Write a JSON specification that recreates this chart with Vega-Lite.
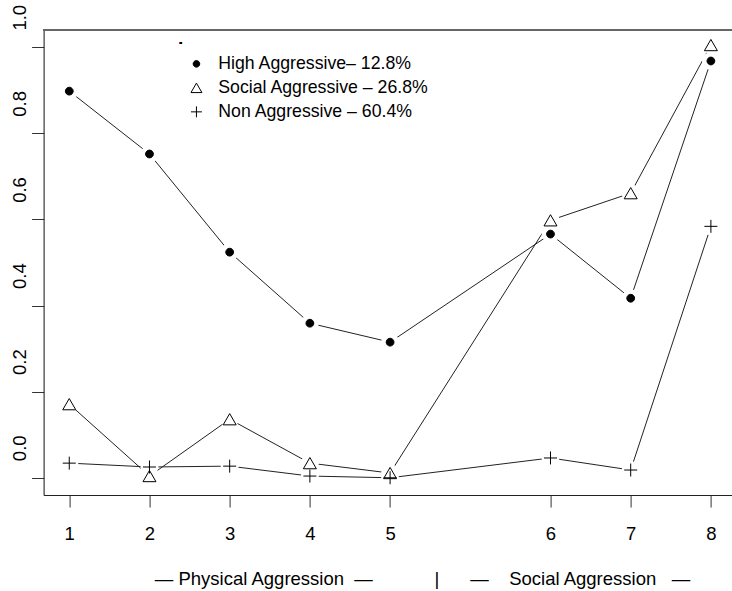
{
  "$schema": "https://vega.github.io/schema/vega-lite/v6.json",
  "width": 688.4,
  "height": 465,
  "autosize": {"type": "none"},
  "padding": {"left": 43.6, "top": 30, "right": 0, "bottom": 96},
  "background": "white",
  "config": {
    "view": {"stroke": null},
    "font": "Liberation Sans",
    "axis": {"grid": false}
  },
  "data": {
    "values": [
      {"group": "High Aggressive– 12.8%", "item": 1, "pos": 1, "value": 0.898},
      {"group": "High Aggressive– 12.8%", "item": 2, "pos": 2, "value": 0.752},
      {"group": "High Aggressive– 12.8%", "item": 3, "pos": 3, "value": 0.524},
      {"group": "High Aggressive– 12.8%", "item": 4, "pos": 4, "value": 0.359},
      {"group": "High Aggressive– 12.8%", "item": 5, "pos": 5, "value": 0.315},
      {"group": "High Aggressive– 12.8%", "item": 6, "pos": 7, "value": 0.566},
      {"group": "High Aggressive– 12.8%", "item": 7, "pos": 8, "value": 0.417},
      {"group": "High Aggressive– 12.8%", "item": 8, "pos": 9, "value": 0.968},
      {"group": "Social Aggressive – 26.8%", "item": 1, "pos": 1, "value": 0.171},
      {"group": "Social Aggressive – 26.8%", "item": 2, "pos": 2, "value": 0.004},
      {"group": "Social Aggressive – 26.8%", "item": 3, "pos": 3, "value": 0.136},
      {"group": "Social Aggressive – 26.8%", "item": 4, "pos": 4, "value": 0.034},
      {"group": "Social Aggressive – 26.8%", "item": 5, "pos": 5, "value": 0.011},
      {"group": "Social Aggressive – 26.8%", "item": 6, "pos": 7, "value": 0.598},
      {"group": "Social Aggressive – 26.8%", "item": 7, "pos": 8, "value": 0.661},
      {"group": "Social Aggressive – 26.8%", "item": 8, "pos": 9, "value": 1.005},
      {"group": "Non Aggressive – 60.4%", "item": 1, "pos": 1, "value": 0.034},
      {"group": "Non Aggressive – 60.4%", "item": 2, "pos": 2, "value": 0.025},
      {"group": "Non Aggressive – 60.4%", "item": 3, "pos": 3, "value": 0.027},
      {"group": "Non Aggressive – 60.4%", "item": 4, "pos": 4, "value": 0.004},
      {"group": "Non Aggressive – 60.4%", "item": 5, "pos": 5, "value": 0.0},
      {"group": "Non Aggressive – 60.4%", "item": 6, "pos": 7, "value": 0.046},
      {"group": "Non Aggressive – 60.4%", "item": 7, "pos": 8, "value": 0.018},
      {"group": "Non Aggressive – 60.4%", "item": 8, "pos": 9, "value": 0.584}
    ]
  },
  "encoding": {
    "x": {
      "field": "pos", "type": "quantitative",
      "scale": {"domain": [0.68, 9.263], "nice": false, "zero": false},
      "axis": {
        "values": [1, 2, 3, 4, 5, 7, 8, 9],
        "labelExpr": "'' + (datum.value > 5 ? datum.value - 1 : datum.value)",
        "domain": true,
        "domainColor": "#222",
        "ticks": true,
        "tickColor": "#333",
        "tickSize": 12,
        "labels": true,
        "labelFontSize": 18.5,
        "labelColor": "black",
        "labelBaseline": "middle",
        "labelPadding": 26,
        "labelFlush": false,
        "labelOverlap": false,
        "title": "—\u00a0Physical Aggression\u00a0\u00a0—\u00a0\u00a0\u00a0\u00a0\u00a0\u00a0\u00a0\u00a0\u00a0\u00a0\u00a0\u00a0|\u00a0\u00a0\u00a0\u00a0\u00a0\u00a0—\u00a0\u00a0\u00a0\u00a0Social Aggression\u00a0\u00a0\u00a0—",
        "titleFontSize": 18.5,
        "titleFontWeight": "normal",
        "titleColor": "black",
        "titleX": 378.4,
        "titleY": 83,
        "titleAlign": "center",
        "titleBaseline": "middle"
      }
    },
    "y": {
      "field": "value", "type": "quantitative",
      "scale": {"domain": [-0.04, 1.04], "nice": false, "zero": false},
      "axis": {
        "values": [0, 0.2, 0.4, 0.6, 0.8, 1.0],
        "format": ".1f",
        "domain": true,
        "domainColor": "#111",
        "ticks": true,
        "tickColor": "#333",
        "tickSize": 12,
        "labels": true,
        "labelFontSize": 18.5,
        "labelColor": "black",
        "labelAngle": 270,
        "labelAlign": "center",
        "labelBaseline": "alphabetic",
        "labelPadding": 6,
        "labelOffset": -30,
        "labelFlush": false,
        "labelOverlap": false,
        "title": null
      }
    }
  },
  "layer": [
    {
      "mark": {"type": "line", "color": "#222", "strokeWidth": 1},
      "encoding": {"detail": {"field": "group"}}
    },
    {
      "mark": {"type": "circle", "fill": "#ffffff", "fillOpacity": 1, "opacity": 1, "size": 320, "stroke": null}
    },
    {
      "mark": {"type": "point", "size": 169, "stroke": "black", "strokeWidth": 1, "opacity": 1},
      "encoding": {
        "shape": {
          "field": "group", "type": "nominal",
          "scale": {
            "domain": ["High Aggressive– 12.8%", "Social Aggressive – 26.8%", "Non Aggressive – 60.4%"],
            "range": ["M-0.6,0A0.6,0.6 0 1,0 0.6,0A0.6,0.6 0 1,0 -0.6,0Z", "triangle-up", "M-1,0H1M0,-1V1"]
          },
          "legend": {
            "title": null,
            "orient": "none",
            "legendX": 144,
            "legendY": 25,
            "padding": 0,
            "labelFont": "Liberation Sans",
            "labelFontSize": 17.7,
            "labelColor": "black",
            "labelLimit": 500,
            "labelOffset": 13,
            "rowPadding": 5,
            "symbolSize": 120,
            "symbolStrokeColor": "black",
            "symbolStrokeWidth": 1,
            "symbolOpacity": 1,
            "encode": {"symbols": {"update": {"stroke": {"value": "black"}, "strokeWidth": {"value": 1}}}}
          }
        },
        "fill": {
          "field": "group", "type": "nominal",
          "scale": {
            "domain": ["High Aggressive– 12.8%", "Social Aggressive – 26.8%", "Non Aggressive – 60.4%"],
            "range": ["black", "transparent", "transparent"]
          },
          "legend": {
            "title": null,
            "orient": "none",
            "legendX": 144,
            "legendY": 25,
            "padding": 0,
            "labelFont": "Liberation Sans",
            "labelFontSize": 17.7,
            "labelColor": "black",
            "labelLimit": 500,
            "labelOffset": 13,
            "rowPadding": 5,
            "symbolSize": 120,
            "symbolStrokeColor": "black",
            "symbolStrokeWidth": 1,
            "symbolOpacity": 1,
            "encode": {"symbols": {"update": {"stroke": {"value": "black"}, "strokeWidth": {"value": 1}}}}
          }
        }
      }
    },
    {
      "mark": {"type": "rule", "color": "#666", "strokeWidth": 1},
      "encoding": {
        "x": {"datum": 0.68, "type": "quantitative"},
        "x2": {"datum": 9.263},
        "y": {"datum": 1.04, "type": "quantitative"}
      }
    },
    {
      "mark": {"type": "text", "text": ".", "fontSize": 16, "baseline": "alphabetic", "color": "black"},
      "encoding": {
        "x": {"datum": 2.39, "type": "quantitative"},
        "y": {"datum": 1.008, "type": "quantitative"}
      }
    }
  ]
}
